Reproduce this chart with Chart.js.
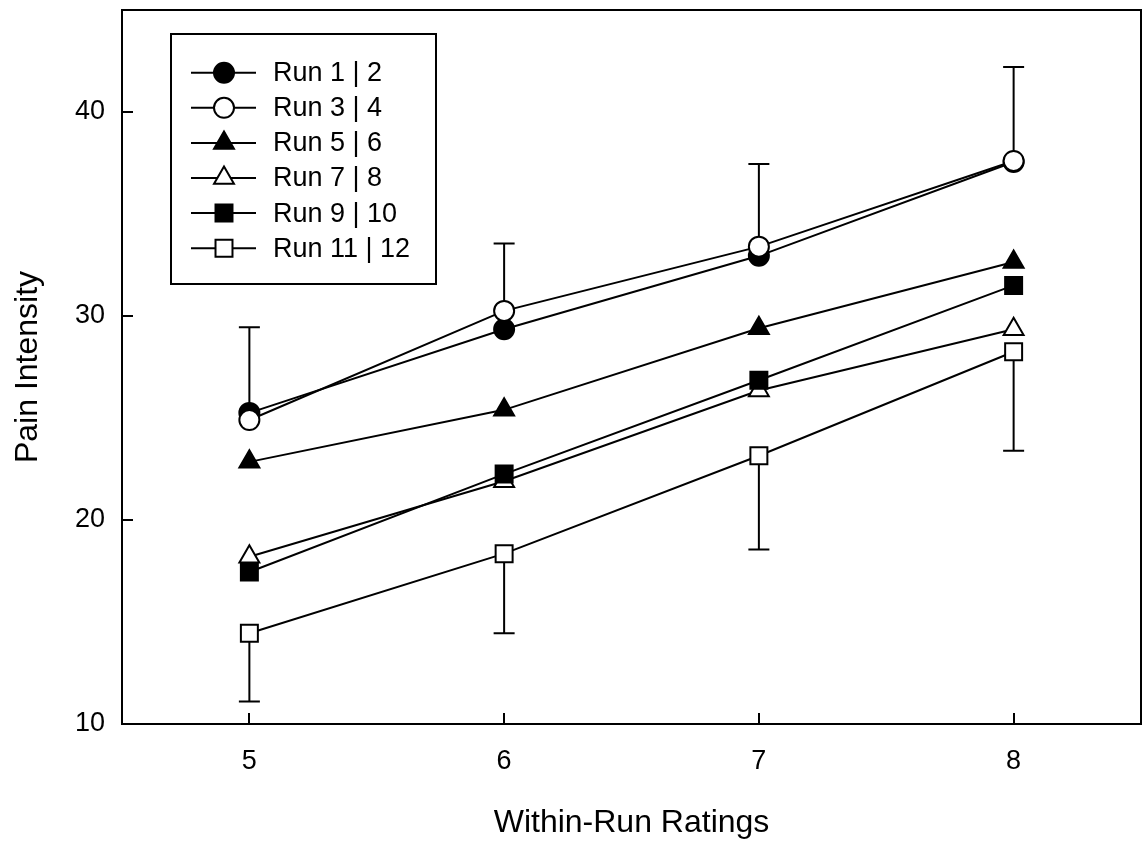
<!DOCTYPE html>
<html>
<head>
<meta charset="utf-8">
<title>Pain Intensity by Within-Run Ratings</title>
<script src="https://cdn.jsdelivr.net/npm/chart.js@4.4.1/dist/chart.umd.min.js"></script>
<style>
  html, body { margin: 0; padding: 0; background: #fff; }
  canvas { display: block; }
</style>
</head>
<body>
<canvas id="painChart" width="1142" height="842"></canvas>
<script>
// values
const ratings = [5, 6, 7, 8];
const yTickValues = [10, 20, 30, 40];
const runNames = ["Run 1 | 2", "Run 3 | 4", "Run 5 | 6", "Run 7 | 8", "Run 9 | 10", "Run 11 | 12"];
const run1_2 = [25.25, 29.35, 32.95, 37.55];
const run3_4 = [24.9, 30.25, 33.4, 37.6];
const run5_6 = [22.85, 25.4, 29.4, 32.65];
const run7_8 = [18.2, 21.9, 26.35, 29.35];
const run9_10 = [17.45, 22.25, 26.85, 31.5];
const run11_12 = [14.45, 18.35, 23.15, 28.25];
// error bar ends: upward on Run 3|4, downward on Run 11|12
const run3_4Upper = [29.45, 33.55, 37.45, 42.2];
const run11_12Lower = [11.1, 14.45, 18.55, 23.4];

const FONT = "Arial, 'Liberation Sans', sans-serif";
Chart.defaults.font.family = FONT;
Chart.defaults.color = "#000";

const allRuns = [run1_2, run3_4, run5_6, run7_8, run9_10, run11_12];
const markers = [
    { style: "circle", r: 10, fill: "#000" },
    { style: "circle", r: 10, fill: "#fff" },
    { style: "triangle", r: 11.5, fill: "#000" },
    { style: "triangle", r: 11.5, fill: "#fff" },
    { style: "rect", r: 12, fill: "#000" },
    { style: "rect", r: 12, fill: "#fff" }
];
const errorBars = [
    { means: run3_4, ends: run3_4Upper },
    { means: run11_12, ends: run11_12Lower }
];

const datasets = allRuns.map((vals, i) => ({
    label: runNames[i],
    data: ratings.map((x, j) => ({ x: x, y: vals[j] })),
    borderColor: "#000",
    borderWidth: 2,
    pointStyle: markers[i].style,
    pointRadius: markers[i].r,
    pointBackgroundColor: markers[i].fill,
    pointBorderColor: "#000",
    pointBorderWidth: 2,
    fill: false,
    tension: 0,
    order: 6 - i   // later runs on top
}));

// error bars go under the markers
const errorBarPlugin = {
    id: "errorBars",
    beforeDatasetsDraw(chart) {
        const { ctx, scales: { x, y } } = chart;
        ctx.save();
        ctx.strokeStyle = "#000";
        ctx.lineWidth = 2;
        errorBars.forEach(eb => {
            ratings.forEach((r, j) => {
                const px = x.getPixelForValue(r);
                const y0 = y.getPixelForValue(eb.means[j]);
                const y1 = y.getPixelForValue(eb.ends[j]);
                ctx.beginPath();
                ctx.moveTo(px, y0);
                ctx.lineTo(px, y1);
                ctx.moveTo(px - 10.5, y1);
                ctx.lineTo(px + 10.5, y1);
                ctx.stroke();
            });
        });
        ctx.restore();
    }
};

function drawMarker(ctx, m, x, y) {
    const opts = { pointStyle: m.style, radius: m.r, borderWidth: 2, rotation: 0 };
    ctx.fillStyle = m.fill;
    ctx.strokeStyle = "#000";
    ctx.lineWidth = 2;
    Chart.helpers.drawPoint(ctx, opts, x, y);
}

// frame, inward ticks and the boxed legend
const framePlugin = {
    id: "frame",
    afterDraw(chart) {
        const { ctx, chartArea: a, scales: { x, y } } = chart;
        ctx.save();
        ctx.strokeStyle = "#000";
        ctx.lineWidth = 2;
        ctx.strokeRect(a.left, a.top, a.right - a.left, a.bottom - a.top);

        ctx.beginPath();
        y.ticks.forEach(t => {
            const py = Math.round(y.getPixelForValue(t.value));
            ctx.moveTo(a.left, py);
            ctx.lineTo(a.left + 11, py);
        });
        x.ticks.forEach(t => {
            const px = Math.round(x.getPixelForValue(t.value));
            ctx.moveTo(px, a.bottom);
            ctx.lineTo(px, a.bottom - 11);
        });
        ctx.stroke();

        // legend
        const bx = 171, by = 34, bw = 265, bh = 250;
        ctx.fillStyle = "#fff";
        ctx.fillRect(bx, by, bw, bh);
        ctx.strokeRect(bx, by, bw, bh);
        ctx.font = "27px " + FONT;
        ctx.textBaseline = "middle";
        runNames.forEach((name, i) => {
            const ly = 72.7 + i * 35.1;
            ctx.beginPath();
            ctx.moveTo(191, ly);
            ctx.lineTo(256, ly);
            ctx.stroke();
            drawMarker(ctx, markers[i], 224, ly);
            ctx.fillStyle = "#000";
            ctx.fillText(name, 273, ly + 1);
        });
        ctx.restore();
    }
};

new Chart(document.getElementById("painChart"), {
    type: "line",
    data: { datasets: datasets },
    options: {
        responsive: false,
        animation: false,
        layout: { autoPadding: false, padding: { top: 10, right: 1, left: 0, bottom: 0 } },
        plugins: { legend: { display: false }, tooltip: { enabled: false } },
        scales: {
            x: {
                type: "linear",
                min: 4.5,
                max: 8.5,
                grid: { display: false, drawTicks: false },
                border: { display: false },
                ticks: { padding: 21, font: { size: 27 }, color: "#000" },
                afterBuildTicks: s => { s.ticks = ratings.map(v => ({ value: v })); },
                title: { display: true, text: "Within-Run Ratings", font: { size: 32 }, color: "#000", padding: { top: 0, bottom: 0 } },
                afterFit: s => { s.height = 118; s.paddingLeft = 0; s.paddingRight = 0; }
            },
            y: {
                min: 10,
                max: 45,
                grid: { display: false, drawTicks: false },
                border: { display: false },
                ticks: { padding: 17, font: { size: 27 }, color: "#000" },
                afterBuildTicks: s => { s.ticks = yTickValues.map(v => ({ value: v })); },
                title: { display: true, text: "Pain Intensity", font: { size: 32 }, color: "#000", padding: { top: 9, bottom: 0 } },
                afterFit: s => { s.width = 122; s.paddingTop = 0; s.paddingBottom = 0; }
            }
        }
    },
    plugins: [errorBarPlugin, framePlugin]
});
</script>
</body>
</html>
